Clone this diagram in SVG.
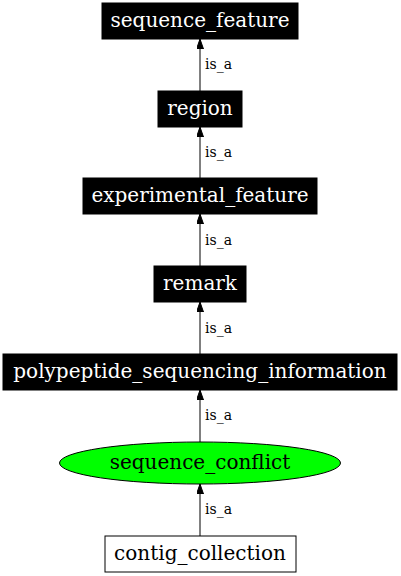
<svg xmlns="http://www.w3.org/2000/svg" width="401" height="576" viewBox="0 0 401 576">
<style>
.n{font-family:"DejaVu Serif","Liberation Serif",serif;font-size:20px;text-anchor:middle}
.w{fill:#ffffff}
.k{fill:#000000}
.e{stroke:#000;stroke-width:1;fill:none}
.l{font-family:"DejaVu Serif","Liberation Serif",serif;font-size:14px;fill:#000}
</style>
<defs>
<marker id="a" viewBox="0 0 10 7" refX="10" refY="3.5" markerWidth="10" markerHeight="7" markerUnits="userSpaceOnUse" orient="auto">
<path d="M0,0L10,3.5L0,7z" fill="#000" stroke="#000"/>
</marker>
</defs>
<rect width="401" height="576" fill="#fff"/>
<g id="edges">
<path class="e" d="M200,91L200,39" marker-end="url(#a)"/>
<text class="l" x="205" y="69">is_a</text>
<path class="e" d="M200,178L200,127" marker-end="url(#a)"/>
<text class="l" x="205" y="157">is_a</text>
<path class="e" d="M200,266L200,214" marker-end="url(#a)"/>
<text class="l" x="205" y="245">is_a</text>
<path class="e" d="M200,354L200,302" marker-end="url(#a)"/>
<text class="l" x="205" y="333">is_a</text>
<path class="e" d="M200,442L200,390" marker-end="url(#a)"/>
<text class="l" x="205" y="420">is_a</text>
<path class="e" d="M200,536L200,484" marker-end="url(#a)"/>
<text class="l" x="205" y="514">is_a</text>
</g>
<g id="sequence_feature">
<rect x="102" y="3" width="196" height="36" fill="#000" stroke="#000"/>
<text class="n w" x="200" y="27">sequence_feature</text>
</g>
<g id="region">
<rect x="158" y="91" width="84" height="36" fill="#000" stroke="#000"/>
<text class="n w" x="200" y="115">region</text>
</g>
<g id="experimental_feature">
<rect x="83" y="178" width="234" height="36" fill="#000" stroke="#000"/>
<text class="n w" x="200" y="202">experimental_feature</text>
</g>
<g id="remark">
<rect x="154" y="266" width="92" height="36" fill="#000" stroke="#000"/>
<text class="n w" x="200" y="290">remark</text>
</g>
<g id="polypeptide_sequencing_information">
<rect x="3" y="354" width="394" height="36" fill="#000" stroke="#000"/>
<text class="n w" x="200" y="378">polypeptide_sequencing_information</text>
</g>
<g id="sequence_conflict">
<ellipse cx="200" cy="463" rx="140.5" ry="21" fill="#00ff00" stroke="#000"/>
<text class="n k" x="200" y="469">sequence_conflict</text>
</g>
<g id="contig_collection">
<rect x="105" y="536" width="191" height="36" fill="#fff" stroke="#000"/>
<text class="n k" x="200" y="560">contig_collection</text>
</g>
</svg>
